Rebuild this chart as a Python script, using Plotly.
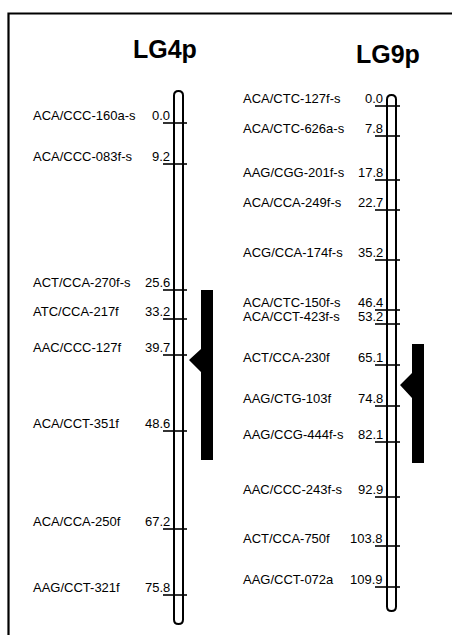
import plotly.graph_objects as go

# Linkage group LG4p: marker names, map distances (cM) and drawn row positions
lg4_markers = ["ACA/CCC-160a-s", "ACA/CCC-083f-s", "ACT/CCA-270f-s", "ATC/CCA-217f",
               "AAC/CCC-127f", "ACA/CCT-351f", "ACA/CCA-250f", "AAG/CCT-321f"]
lg4_cm = [0.0, 9.2, 25.6, 33.2, 39.7, 48.6, 67.2, 75.8]
lg4_rows = [123, 164, 290, 319, 355, 431, 529, 595]

# Linkage group LG9p
lg9_markers = ["ACA/CTC-127f-s", "ACA/CTC-626a-s", "AAG/CGG-201f-s", "ACA/CCA-249f-s",
               "ACG/CCA-174f-s", "ACA/CTC-150f-s", "ACA/CCT-423f-s", "ACT/CCA-230f",
               "AAG/CTG-103f", "AAG/CCG-444f-s", "AAC/CCC-243f-s", "ACT/CCA-750f",
               "AAG/CCT-072a"]
lg9_cm = [0.0, 7.8, 17.8, 22.7, 35.2, 46.4, 53.2, 65.1, 74.8, 82.1, 92.9, 103.8, 109.9]
lg9_rows = [106, 136, 180, 210, 260, 310, 324, 365, 406, 442, 497, 546, 587]

W, H = 452, 635
FONT = "Liberation Sans, Arial, sans-serif"

groups = [
    dict(title="LG4p", title_xy=(165, 49), markers=lg4_markers, cm=lg4_cm, rows=lg4_rows,
         name_x=31, val_x=172, chrom_x=(174, 183), chrom_y=(91, 624), tick_x=(163, 187),
         qtl_x=(201, 213), qtl_y=(290, 460), notch=(349, 360, 372, 189)),
    dict(title="LG9p", title_xy=(388, 54), markers=lg9_markers, cm=lg9_cm, rows=lg9_rows,
         name_x=241, val_x=385, chrom_x=(387, 396), chrom_y=(95, 611), tick_x=(375, 400),
         qtl_x=(412, 424), qtl_y=(344, 463), notch=(373, 385, 398, 400)),
]

shapes = []
annotations = []

# frame
shapes.append(dict(type="rect", xref="x", yref="y", x0=8.5, y0=13.5, x1=W + 20, y1=H + 20,
                   line=dict(color="black", width=2.2), fillcolor="rgba(0,0,0,0)"))

for g in groups:
    x0, x1 = g["chrom_x"]
    top, bot = g["chrom_y"]
    r = (x1 - x0) / 2
    cx = (x0 + x1) / 2
    path = (f"M {x0},{top + r} Q {x0},{top} {cx},{top} Q {x1},{top} {x1},{top + r} "
            f"L {x1},{bot - r} Q {x1},{bot} {cx},{bot} Q {x0},{bot} {x0},{bot - r} Z")
    shapes.append(dict(type="path", xref="x", yref="y", path=path,
                       line=dict(color="black", width=2), fillcolor="white"))

    # marker ticks and labels
    for name, cm, row in zip(g["markers"], g["cm"], g["rows"]):
        shapes.append(dict(type="line", xref="x", yref="y", x0=g["tick_x"][0], x1=g["tick_x"][1],
                           y0=row, y1=row, line=dict(color="black", width=1.6)))
        annotations.append(dict(x=g["name_x"], y=row - 8, xref="x", yref="y", text=name,
                                showarrow=False, xanchor="left", yanchor="middle",
                                font=dict(family=FONT, size=13, color="black")))
        annotations.append(dict(x=g["val_x"], y=row - 8, xref="x", yref="y", text=f"{cm:.1f}",
                                showarrow=False, xanchor="right", yanchor="middle",
                                font=dict(family=FONT, size=13, color="black")))

    # QTL bar with peak notch
    qx0, qx1 = g["qtl_x"]
    qy0, qy1 = g["qtl_y"]
    n0, npk, n1, tip = g["notch"]
    qpath = (f"M {qx0},{qy0} L {qx1},{qy0} L {qx1},{qy1} L {qx0},{qy1} "
             f"L {qx0},{n1} L {tip},{npk} L {qx0},{n0} Z")
    shapes.append(dict(type="path", xref="x", yref="y", path=qpath,
                       line=dict(color="black", width=0), fillcolor="black"))

    annotations.append(dict(x=g["title_xy"][0], y=g["title_xy"][1], xref="x", yref="y",
                            text=f"<b>{g['title']}</b>", showarrow=False,
                            xanchor="center", yanchor="middle",
                            font=dict(family=FONT, size=25, color="black")))

fig = go.Figure()
fig.add_trace(go.Scatter(x=[0], y=[0], mode="markers", marker=dict(opacity=0),
                         hoverinfo="skip", showlegend=False))
fig.update_layout(
    width=W, height=H,
    margin=dict(l=0, r=0, t=0, b=0),
    paper_bgcolor="white", plot_bgcolor="white",
    xaxis=dict(range=[0, W], visible=False, fixedrange=True),
    yaxis=dict(range=[H, 0], visible=False, fixedrange=True),
    shapes=shapes, annotations=annotations, showlegend=False,
)
fig.write_html("out.html")
